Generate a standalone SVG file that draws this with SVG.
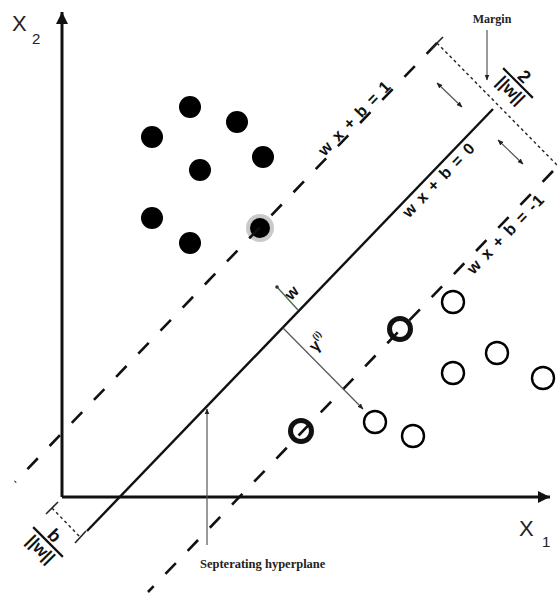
<svg xmlns="http://www.w3.org/2000/svg" width="557" height="599" viewBox="0 0 557 599">
  <style>
    .axis { stroke:#111; stroke-width:3; fill:none; }
    .dash { stroke:#111; stroke-width:2.6; stroke-dasharray:15 17; fill:none; }
    .solid { stroke:#111; stroke-width:2.4; fill:none; }
    .dot { stroke:#222; stroke-width:1.4; stroke-dasharray:3 3; fill:none; }
    .thin { stroke:#555; stroke-width:1.2; fill:none; }
    .lbl { font-family:"Liberation Sans", Arial, sans-serif; font-weight:bold; fill:#111; }
    .ser { font-family:"Liberation Serif", "Times New Roman", serif; font-weight:bold; fill:#222; }
    .ax { font-family:"Liberation Sans", Arial, sans-serif; fill:#222; }
    .fill { fill:#000; }
    .open { fill:none; stroke:#000; stroke-width:2.4; }
    .thick { fill:none; stroke:#111; stroke-width:5; }
  </style>
  <defs>
    <marker id="ah" viewBox="0 0 10 10" refX="9" refY="5" markerWidth="6" markerHeight="6" orient="auto-start-reverse" markerUnits="userSpaceOnUse">
      <path d="M0,1 L10,5 L0,9 z" fill="#222"/>
    </marker>
    <marker id="axh" viewBox="0 0 10 10" refX="10" refY="5" markerWidth="15" markerHeight="12" orient="auto" markerUnits="userSpaceOnUse">
      <path d="M0,0 L10,5 L0,10 z" fill="#111"/>
    </marker>
  </defs>
  <rect width="557" height="599" fill="#fff"/>

  <g id="axes">
    <line class="axis" x1="62" y1="497" x2="62" y2="12" marker-end="url(#axh)"/>
    <line class="axis" x1="62" y1="497" x2="550" y2="497" marker-end="url(#axh)"/>
    <text class="ax" x="12" y="31" font-size="22">X</text>
    <text class="ax" x="32" y="44" font-size="15">2</text>
    <text class="ax" x="519" y="536" font-size="22">X</text>
    <text class="ax" x="542" y="547" font-size="15">1</text>
  </g>

  <g id="positive-points">
    <circle class="fill" cx="190" cy="107" r="11"/>
    <circle class="fill" cx="237" cy="122" r="11"/>
    <circle class="fill" cx="152" cy="137" r="11"/>
    <circle class="fill" cx="263" cy="157" r="11"/>
    <circle class="fill" cx="200" cy="170" r="11"/>
    <circle class="fill" cx="152" cy="218" r="11"/>
    <circle class="fill" cx="190" cy="243" r="11"/>
    <circle cx="260" cy="228" r="14" fill="#c9c9c9"/>
    <circle class="fill" cx="260" cy="228" r="10"/>
  </g>

  <g id="negative-points">
    <circle class="open" cx="453" cy="302" r="11"/>
    <circle class="open" cx="497" cy="353" r="11"/>
    <circle class="open" cx="453" cy="373" r="11"/>
    <circle class="open" cx="543" cy="378" r="11"/>
    <circle class="open" cx="375" cy="422" r="11"/>
    <circle class="open" cx="413" cy="436" r="11"/>
    <circle class="thick" cx="400" cy="329" r="10.5"/>
    <circle class="thick" cx="301" cy="431" r="10.5"/>
  </g>

  <g id="connectors">
    <line class="dash" x1="437" y1="43" x2="15" y2="482"/>
    <line class="solid" x1="493" y1="109" x2="87" y2="531"/>
    <line class="dash" x1="553" y1="171" x2="148" y2="592"/>
    <line class="dot" x1="437" y1="43" x2="557" y2="165"/>
    <line class="dot" x1="52" y1="508" x2="80" y2="537"/>
    <line stroke="#222" stroke-width="1.6" x1="431" y1="49" x2="443" y2="37"/>
    <line stroke="#222" stroke-width="1.6" x1="46" y1="514" x2="58" y2="502"/>
    <line stroke="#222" stroke-width="1.6" x1="75" y1="543" x2="86" y2="531"/>
    <line class="thin" x1="437" y1="83" x2="462" y2="107" marker-start="url(#ah)" marker-end="url(#ah)"/>
    <line class="thin" x1="498" y1="140" x2="523" y2="164" marker-start="url(#ah)" marker-end="url(#ah)"/>
    <line class="thin" x1="487" y1="30" x2="487" y2="80" marker-end="url(#ah)"/>
    <line class="thin" x1="207" y1="545" x2="207" y2="409" marker-end="url(#ah)"/>
    <line class="thin" x1="283" y1="328" x2="363" y2="409" marker-end="url(#ah)"/>
    <line stroke="#4d6b4d" stroke-width="1.4" x1="277" y1="287" x2="298" y2="310"/>
    <circle cx="277" cy="287" r="1.8" fill="#333"/>
  </g>

  <g id="labels">
    <text class="lbl" font-size="16" letter-spacing="1.5" text-anchor="middle" transform="translate(360,123) rotate(-46)" y="-2">w x + b = 1</text>
    <text class="lbl" font-size="16" letter-spacing="1.5" text-anchor="middle" transform="translate(432,173) rotate(-46)" y="15">w x + b = 0</text>
    <text class="lbl" font-size="16" letter-spacing="1.5" text-anchor="middle" transform="translate(499,227) rotate(-46)" y="15">w x + b = -1</text>
    <text class="lbl" font-size="16" text-anchor="middle" transform="translate(292,293) rotate(-46)" y="5">w</text>
    <text class="lbl" font-size="16" text-anchor="middle" transform="translate(318,343) rotate(-46)" y="5">γ<tspan font-size="9" dy="-8">(i)</tspan></text>
    <g transform="translate(518,83) rotate(45)">
      <line x1="-21" y1="0" x2="21" y2="0" stroke="#111" stroke-width="2.2"/>
      <text class="lbl" font-size="18" text-anchor="middle" y="-3">2</text>
      <text class="lbl" font-size="17" text-anchor="middle" y="16">||w||</text>
    </g>
    <g transform="translate(48,542) rotate(45)">
      <line x1="-21" y1="0" x2="21" y2="0" stroke="#111" stroke-width="2.2"/>
      <text class="lbl" font-size="18" text-anchor="middle" y="-3">b</text>
      <text class="lbl" font-size="17" text-anchor="middle" y="16">||w||</text>
    </g>
    <text class="ser" font-size="12" x="492" y="23" text-anchor="middle">Margin</text>
    <text class="ser" font-size="12.5" x="200" y="568">Septerating hyperplane</text>
  </g>
</svg>
